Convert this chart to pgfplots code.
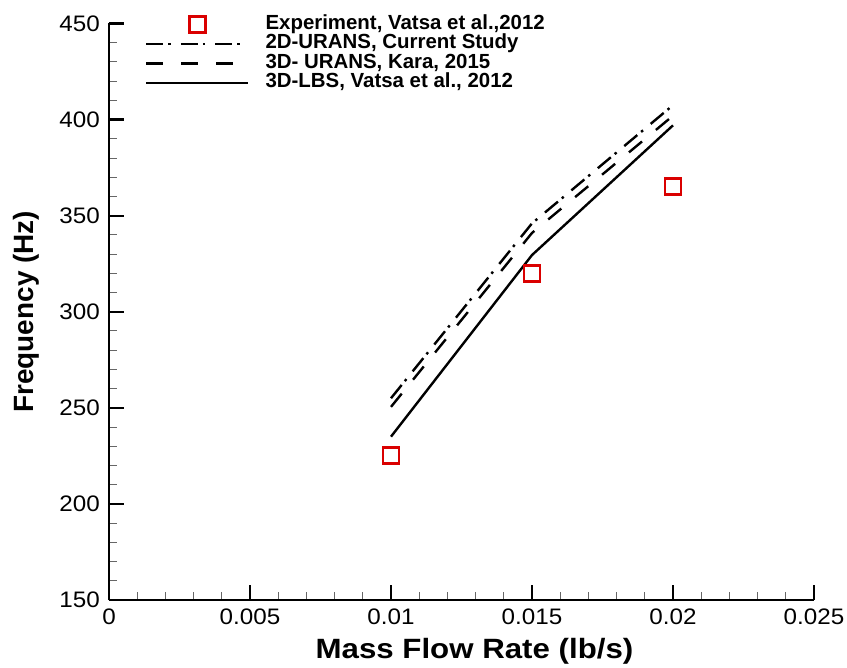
\documentclass[border=0pt]{standalone}
\usepackage{pgfplots}
\pgfplotsset{compat=1.18}
\usepackage{fontspec}
\setmainfont{Liberation Sans}
\definecolor{expred}{RGB}{218,0,0}
\pgfplotsset{
  linelegend/.style={legend image code/.code={\draw[##1] (0bp,0bp) -- (102bp,0bp);}},
  marklegend/.style={legend image code/.code={\draw[##1] plot coordinates {(51bp,0bp)};}},
}
\begin{document}
\begin{tikzpicture}
\begin{axis}[
  scale only axis,
  width=705bp, height=576.5bp,
  xmin=0, xmax=0.025, ymin=150, ymax=450,
  axis x line=bottom, axis y line=left,
  axis line style={-, line width=2.6bp},
  xtick={0,0.005,0.01,0.015,0.02,0.025},
  ytick={150,200,250,300,350,400,450},
  minor x tick num=4, minor y tick num=4,
  tick align=inside,
  major tick length=15bp, minor tick length=8bp,
  major tick style={line width=2.2bp, black},
  minor tick style={line width=1bp, black!60},
  scaled ticks=false,
  xticklabel style={/pgf/number format/fixed, /pgf/number format/precision=3},
  /pgf/number format/assume math mode=true,
  tick label style={font=\fontsize{22.5}{24}\selectfont, xscale=1.08},
  xticklabel style={yshift=-5bp},
  yticklabel style={xshift=-5bp},
  xlabel={\bfseries Mass Flow Rate (lb/s)},
  ylabel={\bfseries Frequency (Hz)},
  label style={font=\fontsize{28}{30}\selectfont},
  xlabel style={yshift=-7bp, xshift=13bp, xscale=1.12},
  ylabel style={yshift=13bp},
  legend style={draw=none, fill=none, at={(0.051,1.0156)}, anchor=north west,
    inner sep=0pt, font=\fontsize{20.5}{21}\selectfont\bfseries,
    row sep=0pt, nodes={inner sep=0pt, text height=14.5bp, text depth=5bp},
    /tikz/every odd column/.append style={column sep=16bp}},
  legend cell align=left,
  linelegend,
  clip=false,
]
\coordinate (O) at (rel axis cs:0,0);
\addplot[only marks, mark=square, mark size=8bp, mark options={expred, line width=2.8bp}, marklegend]
  coordinates {(0.01,225) (0.015,320) (0.02,365)};
\addlegendentry{Experiment, Vatsa et al.,2012}
\addplot[black, line width=2.4bp, dash pattern=on 17bp off 5bp on 2.5bp off 10bp]
  coordinates {(0.01,255) (0.015,346) (0.02,407.5)};
\addlegendentry{2D-URANS, Current Study}
\addplot[black, line width=2.4bp, dash pattern=on 17bp off 18bp]
  coordinates {(0.01,250.5) (0.015,341) (0.02,402)};
\addlegendentry{3D- URANS, Kara, 2015}
\addplot[black, line width=2.4bp]
  coordinates {(0.01,235) (0.015,329.5) (0.02,397)};
\addlegendentry{3D-LBS, Vatsa et al., 2012}
\end{axis}
\pgfresetboundingbox
\path[use as bounding box] (O) ++(-109bp,-68bp) rectangle ++(847bp,668bp);
\end{tikzpicture}
\end{document}
